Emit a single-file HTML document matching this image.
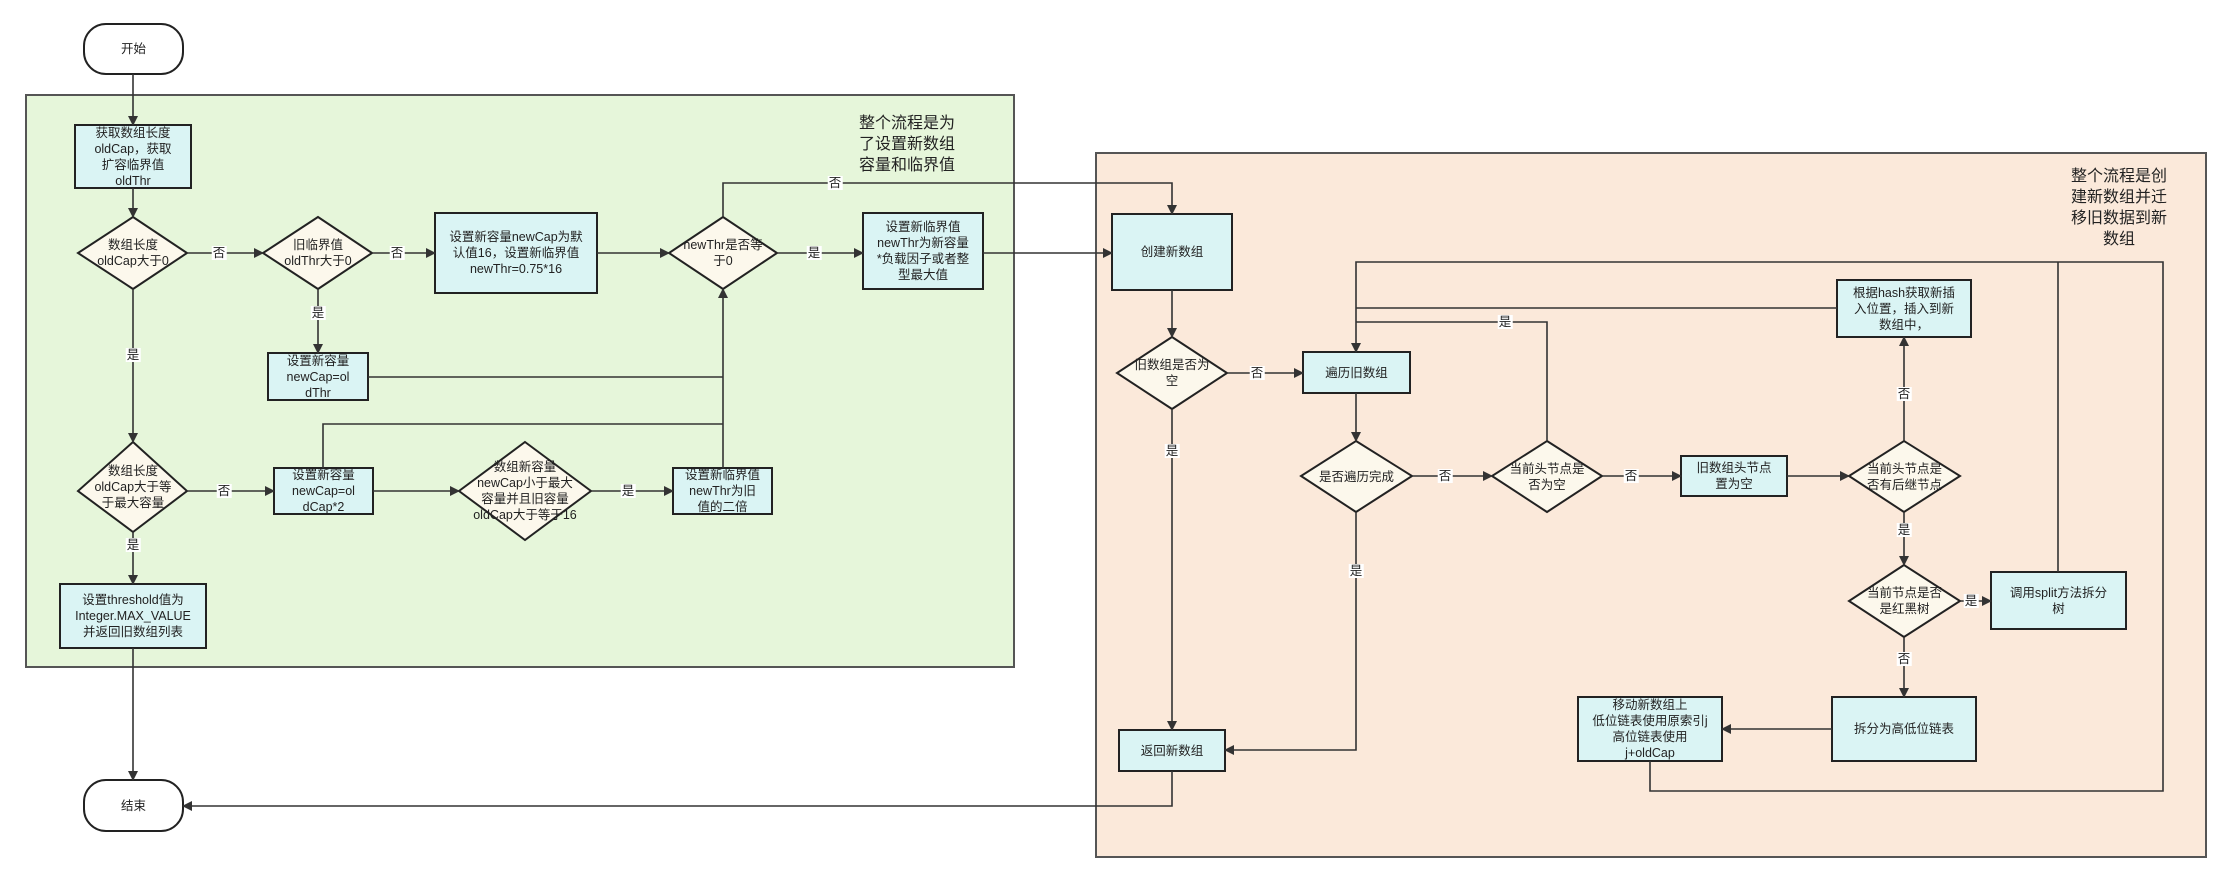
<!DOCTYPE html>
<html><head><meta charset="utf-8"><style>
body{margin:0;background:#fff;}
#c{position:relative;width:2229px;height:881px;overflow:hidden;font-family:"Liberation Sans","Noto Sans CJK SC",sans-serif;color:#222;}
svg{position:absolute;left:0;top:0;}
.t{position:absolute;display:flex;align-items:center;justify-content:center;text-align:center;font-size:12.5px;line-height:16px;}
.l{position:absolute;background:#fff;font-size:12.5px;line-height:14px;transform:translate(-50%,-50%);padding:0 1px;}
.n{position:absolute;font-size:16px;line-height:21px;text-align:center;}
</style></head><body><div id="c">
<svg width="2229" height="881" xmlns="http://www.w3.org/2000/svg">
<defs><marker id="a" markerWidth="10" markerHeight="10" refX="9" refY="5" orient="auto" markerUnits="userSpaceOnUse"><path d="M0,0 L10,5 L0,10 z" fill="#333"/></marker></defs>
<rect x="26" y="95" width="988" height="572" fill="#e6f6da" stroke="#555" stroke-width="2"/>
<rect x="1096" y="153" width="1110" height="704" fill="#fbe9da" stroke="#555" stroke-width="2"/>
<g fill="#fff" stroke="#222" stroke-width="2">
<rect x="84" y="24" width="99" height="50" rx="22"/>
<rect x="84" y="780" width="99" height="51" rx="22"/>
</g>
<g fill="#daf4f4" stroke="#222" stroke-width="2">
<rect x="75" y="125" width="116" height="63"/>
<rect x="435" y="213" width="162" height="80"/>
<rect x="863" y="213" width="120" height="76"/>
<rect x="268" y="353" width="100" height="47"/>
<rect x="274" y="468" width="99" height="46"/>
<rect x="673" y="468" width="99" height="46"/>
<rect x="60" y="584" width="146" height="64"/>
<rect x="1112" y="214" width="120" height="76"/>
<rect x="1303" y="352" width="107" height="41"/>
<rect x="1681" y="456" width="106" height="40"/>
<rect x="1837" y="280" width="134" height="57"/>
<rect x="1991" y="572" width="135" height="57"/>
<rect x="1832" y="697" width="144" height="64"/>
<rect x="1578" y="697" width="144" height="64"/>
<rect x="1119" y="730" width="106" height="41"/>
</g>
<g fill="#fcf8ec" stroke="#222" stroke-width="2">
<polygon points="133,217 187,253 133,289 78,253"/>
<polygon points="318,217 372,253 318,289 263,253"/>
<polygon points="723,217 777,253 723,289 669,253"/>
<polygon points="133,442 187,491 133,532 78,491"/>
<polygon points="525,442 591,491 525,540 459,491"/>
<polygon points="1172,337 1227,373 1172,409 1117,373"/>
<polygon points="1356,441 1412,476 1356,512 1301,476"/>
<polygon points="1547,441 1602,476 1547,512 1492,476"/>
<polygon points="1904,441 1960,476 1904,512 1849,476"/>
<polygon points="1904,565 1960,601 1904,637 1849,601"/>
</g>
<g fill="none" stroke="#333" stroke-width="1.6">
<path d="M133,74V125" marker-end="url(#a)"/>
<path d="M133,188V217" marker-end="url(#a)"/>
<path d="M187,253H263" marker-end="url(#a)"/>
<path d="M372,253H435" marker-end="url(#a)"/>
<path d="M597,253H669" marker-end="url(#a)"/>
<path d="M777,253H863" marker-end="url(#a)"/>
<path d="M723,217V183H1172V214" marker-end="url(#a)"/>
<path d="M983,253H1112" marker-end="url(#a)"/>
<path d="M318,289V353" marker-end="url(#a)"/>
<path d="M368,377H723"/>
<path d="M133,289V442" marker-end="url(#a)"/>
<path d="M187,491H274" marker-end="url(#a)"/>
<path d="M373,491H459" marker-end="url(#a)"/>
<path d="M591,491H673" marker-end="url(#a)"/>
<path d="M723,468V289" marker-end="url(#a)"/>
<path d="M323,468V424H723"/>
<path d="M133,532V584" marker-end="url(#a)"/>
<path d="M133,648V780" marker-end="url(#a)"/>
<path d="M1172,771V806H183" marker-end="url(#a)"/>
<path d="M1172,290V337" marker-end="url(#a)"/>
<path d="M1227,373H1303" marker-end="url(#a)"/>
<path d="M1172,409V730" marker-end="url(#a)"/>
<path d="M1356,393V441" marker-end="url(#a)"/>
<path d="M1412,476H1492" marker-end="url(#a)"/>
<path d="M1356,512V750H1225" marker-end="url(#a)"/>
<path d="M1547,441V322H1356"/>
<path d="M1602,476H1681" marker-end="url(#a)"/>
<path d="M1787,476H1849" marker-end="url(#a)"/>
<path d="M1904,441V337" marker-end="url(#a)"/>
<path d="M1837,308H1356"/>
<path d="M1904,512V565" marker-end="url(#a)"/>
<path d="M1960,601H1991" marker-end="url(#a)"/>
<path d="M2058,572V262"/>
<path d="M1904,637V697" marker-end="url(#a)"/>
<path d="M1832,729H1722" marker-end="url(#a)"/>
<path d="M1650,761V791H2163V262H1356V352" marker-end="url(#a)"/>
</g>
</svg>
<div class="t" style="left:84px;top:24px;width:99px;height:50px">开始</div>
<div class="t" style="left:84px;top:780px;width:99px;height:51px">结束</div>
<div class="n" style="left:850px;top:113px;width:114px">整个流程是为<br>了设置新数组<br>容量和临界值</div>
<div class="n" style="left:2062px;top:166px;width:114px">整个流程是创<br>建新数组并迁<br>移旧数据到新<br>数组</div>
<div class="t" style="left:75px;top:125px;width:116px;height:63px">获取数组长度<br>oldCap，获取<br>扩容临界值<br>oldThr</div>
<div class="t" style="left:435px;top:213px;width:162px;height:80px">设置新容量newCap为默<br>认值16，设置新临界值<br>newThr=0.75*16</div>
<div class="t" style="left:863px;top:213px;width:120px;height:76px">设置新临界值<br>newThr为新容量<br>*负载因子或者整<br>型最大值</div>
<div class="t" style="left:268px;top:353px;width:100px;height:47px">设置新容量<br>newCap=ol<br>dThr</div>
<div class="t" style="left:274px;top:468px;width:99px;height:46px">设置新容量<br>newCap=ol<br>dCap*2</div>
<div class="t" style="left:673px;top:468px;width:99px;height:46px">设置新临界值<br>newThr为旧<br>值的二倍</div>
<div class="t" style="left:60px;top:584px;width:146px;height:64px">设置threshold值为<br>Integer.MAX_VALUE<br>并返回旧数组列表</div>
<div class="t" style="left:78px;top:217px;width:110px;height:72px">数组长度<br>oldCap大于0</div>
<div class="t" style="left:263px;top:217px;width:110px;height:72px">旧临界值<br>oldThr大于0</div>
<div class="t" style="left:669px;top:217px;width:108px;height:72px">newThr是否等<br>于0</div>
<div class="t" style="left:78px;top:442px;width:110px;height:90px">数组长度<br>oldCap大于等<br>于最大容量</div>
<div class="t" style="left:459px;top:442px;width:132px;height:98px">数组新容量<br>newCap小于最大<br>容量并且旧容量<br>oldCap大于等于16</div>
<div class="t" style="left:1112px;top:214px;width:120px;height:76px">创建新数组</div>
<div class="t" style="left:1303px;top:352px;width:107px;height:41px">遍历旧数组</div>
<div class="t" style="left:1681px;top:456px;width:106px;height:40px">旧数组头节点<br>置为空</div>
<div class="t" style="left:1837px;top:280px;width:134px;height:57px">根据hash获取新插<br>入位置，插入到新<br>数组中，</div>
<div class="t" style="left:1991px;top:572px;width:135px;height:57px">调用split方法拆分<br>树</div>
<div class="t" style="left:1832px;top:697px;width:144px;height:64px">拆分为高低位链表</div>
<div class="t" style="left:1578px;top:697px;width:144px;height:64px">移动新数组上<br>低位链表使用原索引j<br>高位链表使用<br>j+oldCap</div>
<div class="t" style="left:1119px;top:730px;width:106px;height:41px">返回新数组</div>
<div class="t" style="left:1117px;top:337px;width:110px;height:72px">旧数组是否为<br>空</div>
<div class="t" style="left:1301px;top:441px;width:111px;height:71px">是否遍历完成</div>
<div class="t" style="left:1492px;top:441px;width:110px;height:71px">当前头节点是<br>否为空</div>
<div class="t" style="left:1849px;top:441px;width:111px;height:71px">当前头节点是<br>否有后继节点</div>
<div class="t" style="left:1849px;top:565px;width:111px;height:72px">当前节点是否<br>是红黑树</div>
<div class="l" style="left:219px;top:253px">否</div>
<div class="l" style="left:397px;top:253px">否</div>
<div class="l" style="left:814px;top:253px">是</div>
<div class="l" style="left:835px;top:183px">否</div>
<div class="l" style="left:318px;top:313px">是</div>
<div class="l" style="left:133px;top:355px">是</div>
<div class="l" style="left:224px;top:491px">否</div>
<div class="l" style="left:628px;top:491px">是</div>
<div class="l" style="left:133px;top:545px">是</div>
<div class="l" style="left:1257px;top:373px">否</div>
<div class="l" style="left:1172px;top:451px">是</div>
<div class="l" style="left:1445px;top:476px">否</div>
<div class="l" style="left:1356px;top:571px">是</div>
<div class="l" style="left:1505px;top:322px">是</div>
<div class="l" style="left:1631px;top:476px">否</div>
<div class="l" style="left:1904px;top:394px">否</div>
<div class="l" style="left:1904px;top:530px">是</div>
<div class="l" style="left:1971px;top:601px">是</div>
<div class="l" style="left:1904px;top:659px">否</div>
</div></body></html>
